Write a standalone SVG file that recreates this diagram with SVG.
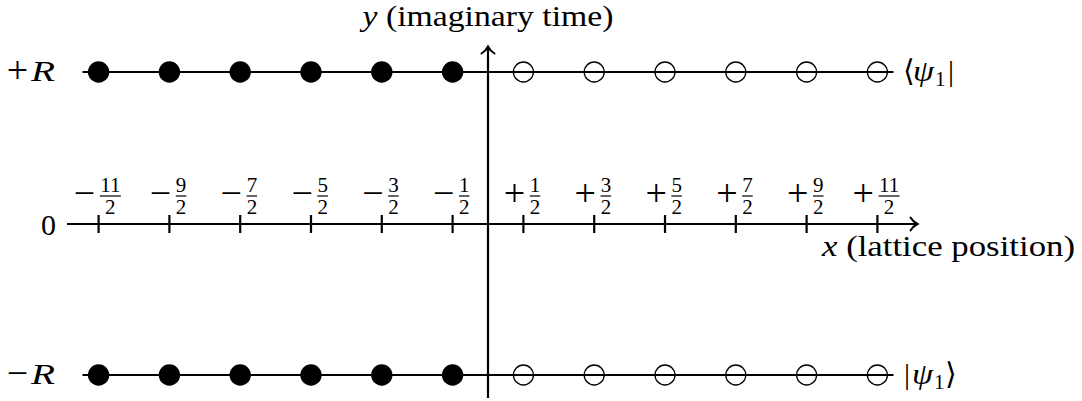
<svg xmlns="http://www.w3.org/2000/svg" width="1082" height="401" viewBox="0 0 1082 401">
<defs>
<style>
.ln{stroke:#000;stroke-width:2.2;fill:none}
.tk{stroke:#000;stroke-width:2.2}
.fb{stroke:#000;stroke-width:1.2}
.full{fill:#000}
.open{fill:none;stroke:#000;stroke-width:1.3}
.t{font-size:30px;fill:#000}
.it{font-style:italic}
.sg{font-size:38px;fill:#000;text-anchor:middle}
.fr{font-size:21px;fill:#000;text-anchor:middle}
.sub{font-size:21px}
</style>
<marker id="ah" markerUnits="userSpaceOnUse" markerWidth="20" markerHeight="20" refX="0" refY="0" orient="auto" overflow="visible">
<path d="M -7,-6.5 C -5,-3 -2,-1 0,0 C -2,1 -5,3 -7,6.5" fill="none" stroke="#000" stroke-width="2" stroke-linecap="round"/>
</marker>
</defs>
<rect width="1082" height="401" fill="#fff"/>

<g id="connectors">
<line class="ln" x1="82.5" y1="72" x2="893.5" y2="72"/>
<line class="ln" x1="82.5" y1="375" x2="893.5" y2="375"/>
<line class="ln" x1="67" y1="224" x2="917.5" y2="224" marker-end="url(#ah)"/>
<line class="ln" x1="488" y1="398" x2="488" y2="46.5" marker-end="url(#ah)"/>
<g id="ticks">
<line class="tk" x1="98.6" y1="215" x2="98.6" y2="233"/>
<line class="tk" x1="169.4" y1="215" x2="169.4" y2="233"/>
<line class="tk" x1="240.2" y1="215" x2="240.2" y2="233"/>
<line class="tk" x1="311" y1="215" x2="311" y2="233"/>
<line class="tk" x1="381.8" y1="215" x2="381.8" y2="233"/>
<line class="tk" x1="452.6" y1="215" x2="452.6" y2="233"/>
<line class="tk" x1="523.4" y1="215" x2="523.4" y2="233"/>
<line class="tk" x1="594.2" y1="215" x2="594.2" y2="233"/>
<line class="tk" x1="665" y1="215" x2="665" y2="233"/>
<line class="tk" x1="735.8" y1="215" x2="735.8" y2="233"/>
<line class="tk" x1="806.6" y1="215" x2="806.6" y2="233"/>
<line class="tk" x1="877.4" y1="215" x2="877.4" y2="233"/>
</g>
</g>

<g id="top-row">
<g id="t1"><circle class="full" cx="98.6" cy="72" r="10.7"/></g>
<g id="t2"><circle class="full" cx="169.4" cy="72" r="10.7"/></g>
<g id="t3"><circle class="full" cx="240.2" cy="72" r="10.7"/></g>
<g id="t4"><circle class="full" cx="311" cy="72" r="10.7"/></g>
<g id="t5"><circle class="full" cx="381.8" cy="72" r="10.7"/></g>
<g id="t6"><circle class="full" cx="452.6" cy="72" r="10.7"/></g>
<g id="t7"><circle class="open" cx="523.4" cy="72" r="10"/></g>
<g id="t8"><circle class="open" cx="594.2" cy="72" r="10"/></g>
<g id="t9"><circle class="open" cx="665" cy="72" r="10"/></g>
<g id="t10"><circle class="open" cx="735.8" cy="72" r="10"/></g>
<g id="t11"><circle class="open" cx="806.6" cy="72" r="10"/></g>
<g id="t12"><circle class="open" cx="877.4" cy="72" r="10"/></g>
</g>

<g id="bottom-row">
<g id="b1"><circle class="full" cx="98.6" cy="375" r="10.7"/></g>
<g id="b2"><circle class="full" cx="169.4" cy="375" r="10.7"/></g>
<g id="b3"><circle class="full" cx="240.2" cy="375" r="10.7"/></g>
<g id="b4"><circle class="full" cx="311" cy="375" r="10.7"/></g>
<g id="b5"><circle class="full" cx="381.8" cy="375" r="10.7"/></g>
<g id="b6"><circle class="full" cx="452.6" cy="375" r="10.7"/></g>
<g id="b7"><circle class="open" cx="523.4" cy="375" r="10"/></g>
<g id="b8"><circle class="open" cx="594.2" cy="375" r="10"/></g>
<g id="b9"><circle class="open" cx="665" cy="375" r="10"/></g>
<g id="b10"><circle class="open" cx="735.8" cy="375" r="10"/></g>
<g id="b11"><circle class="open" cx="806.6" cy="375" r="10"/></g>
<g id="b12"><circle class="open" cx="877.4" cy="375" r="10"/></g>
</g>

<g font-family="Liberation Serif, Times New Roman, serif">
<g id="axis-labels">
<g id="label-plusR"><text class="sg" x="17.5" y="83">+</text><text class="t it" x="31" y="81" textLength="24" lengthAdjust="spacingAndGlyphs">R</text></g>
<g id="label-minusR"><text class="sg" x="17.5" y="386">−</text><text class="t it" x="31" y="384" textLength="24" lengthAdjust="spacingAndGlyphs">R</text></g>
<g id="label-zero"><text class="t" x="48.5" y="234.5" text-anchor="middle">0</text></g>
<g id="label-y"><text class="t" x="488" y="26" text-anchor="middle" textLength="251" lengthAdjust="spacingAndGlyphs"><tspan class="it">y</tspan> (imaginary time)</text></g>
<g id="label-x"><text class="t" x="948.5" y="256" text-anchor="middle" textLength="253" lengthAdjust="spacingAndGlyphs"><tspan class="it">x</tspan> (lattice position)</text></g>
<g id="label-bra"><text class="t" x="903" y="81">⟨</text><text class="t it" x="913" y="81" textLength="21" lengthAdjust="spacingAndGlyphs">ψ</text><text class="t sub" x="935" y="85.5">1</text><text class="t" x="948" y="81">|</text></g>
<g id="label-ket"><text class="t" x="904" y="384">|</text><text class="t it" x="912" y="384" textLength="21" lengthAdjust="spacingAndGlyphs">ψ</text><text class="t sub" x="934" y="388.5">1</text><text class="t" x="945" y="384">⟩</text></g>
</g>

<g id="tick-labels">
<g id="l-11"><text class="sg" x="84.5" y="206">−</text><text class="fr" x="110.3" y="192">11</text><line class="fb" x1="99.8" y1="196" x2="120.8" y2="196"/><text class="fr" x="110.3" y="214">2</text></g>
<g id="l-9"><text class="sg" x="160.5" y="206">−</text><text class="fr" x="181.1" y="192">9</text><line class="fb" x1="175.8" y1="196" x2="186.3" y2="196"/><text class="fr" x="181.1" y="214">2</text></g>
<g id="l-7"><text class="sg" x="231.3" y="206">−</text><text class="fr" x="251.9" y="192">7</text><line class="fb" x1="246.6" y1="196" x2="257.1" y2="196"/><text class="fr" x="251.9" y="214">2</text></g>
<g id="l-5"><text class="sg" x="302.1" y="206">−</text><text class="fr" x="322.7" y="192">5</text><line class="fb" x1="317.4" y1="196" x2="327.9" y2="196"/><text class="fr" x="322.7" y="214">2</text></g>
<g id="l-3"><text class="sg" x="372.9" y="206">−</text><text class="fr" x="393.5" y="192">3</text><line class="fb" x1="388.2" y1="196" x2="398.7" y2="196"/><text class="fr" x="393.5" y="214">2</text></g>
<g id="l-1"><text class="sg" x="443.7" y="206">−</text><text class="fr" x="464.3" y="192">1</text><line class="fb" x1="459" y1="196" x2="469.5" y2="196"/><text class="fr" x="464.3" y="214">2</text></g>
<g id="l1"><text class="sg" x="514.5" y="206">+</text><text class="fr" x="535.1" y="192">1</text><line class="fb" x1="529.8" y1="196" x2="540.3" y2="196"/><text class="fr" x="535.1" y="214">2</text></g>
<g id="l3"><text class="sg" x="585.3" y="206">+</text><text class="fr" x="605.9" y="192">3</text><line class="fb" x1="600.6" y1="196" x2="611.1" y2="196"/><text class="fr" x="605.9" y="214">2</text></g>
<g id="l5"><text class="sg" x="656.1" y="206">+</text><text class="fr" x="676.7" y="192">5</text><line class="fb" x1="671.4" y1="196" x2="681.9" y2="196"/><text class="fr" x="676.7" y="214">2</text></g>
<g id="l7"><text class="sg" x="726.9" y="206">+</text><text class="fr" x="747.5" y="192">7</text><line class="fb" x1="742.2" y1="196" x2="752.7" y2="196"/><text class="fr" x="747.5" y="214">2</text></g>
<g id="l9"><text class="sg" x="797.7" y="206">+</text><text class="fr" x="818.3" y="192">9</text><line class="fb" x1="813" y1="196" x2="823.5" y2="196"/><text class="fr" x="818.3" y="214">2</text></g>
<g id="l11"><text class="sg" x="863.3" y="206">+</text><text class="fr" x="889.1" y="192">11</text><line class="fb" x1="878.6" y1="196" x2="899.6" y2="196"/><text class="fr" x="889.1" y="214">2</text></g>
</g>
</g>
</svg>
